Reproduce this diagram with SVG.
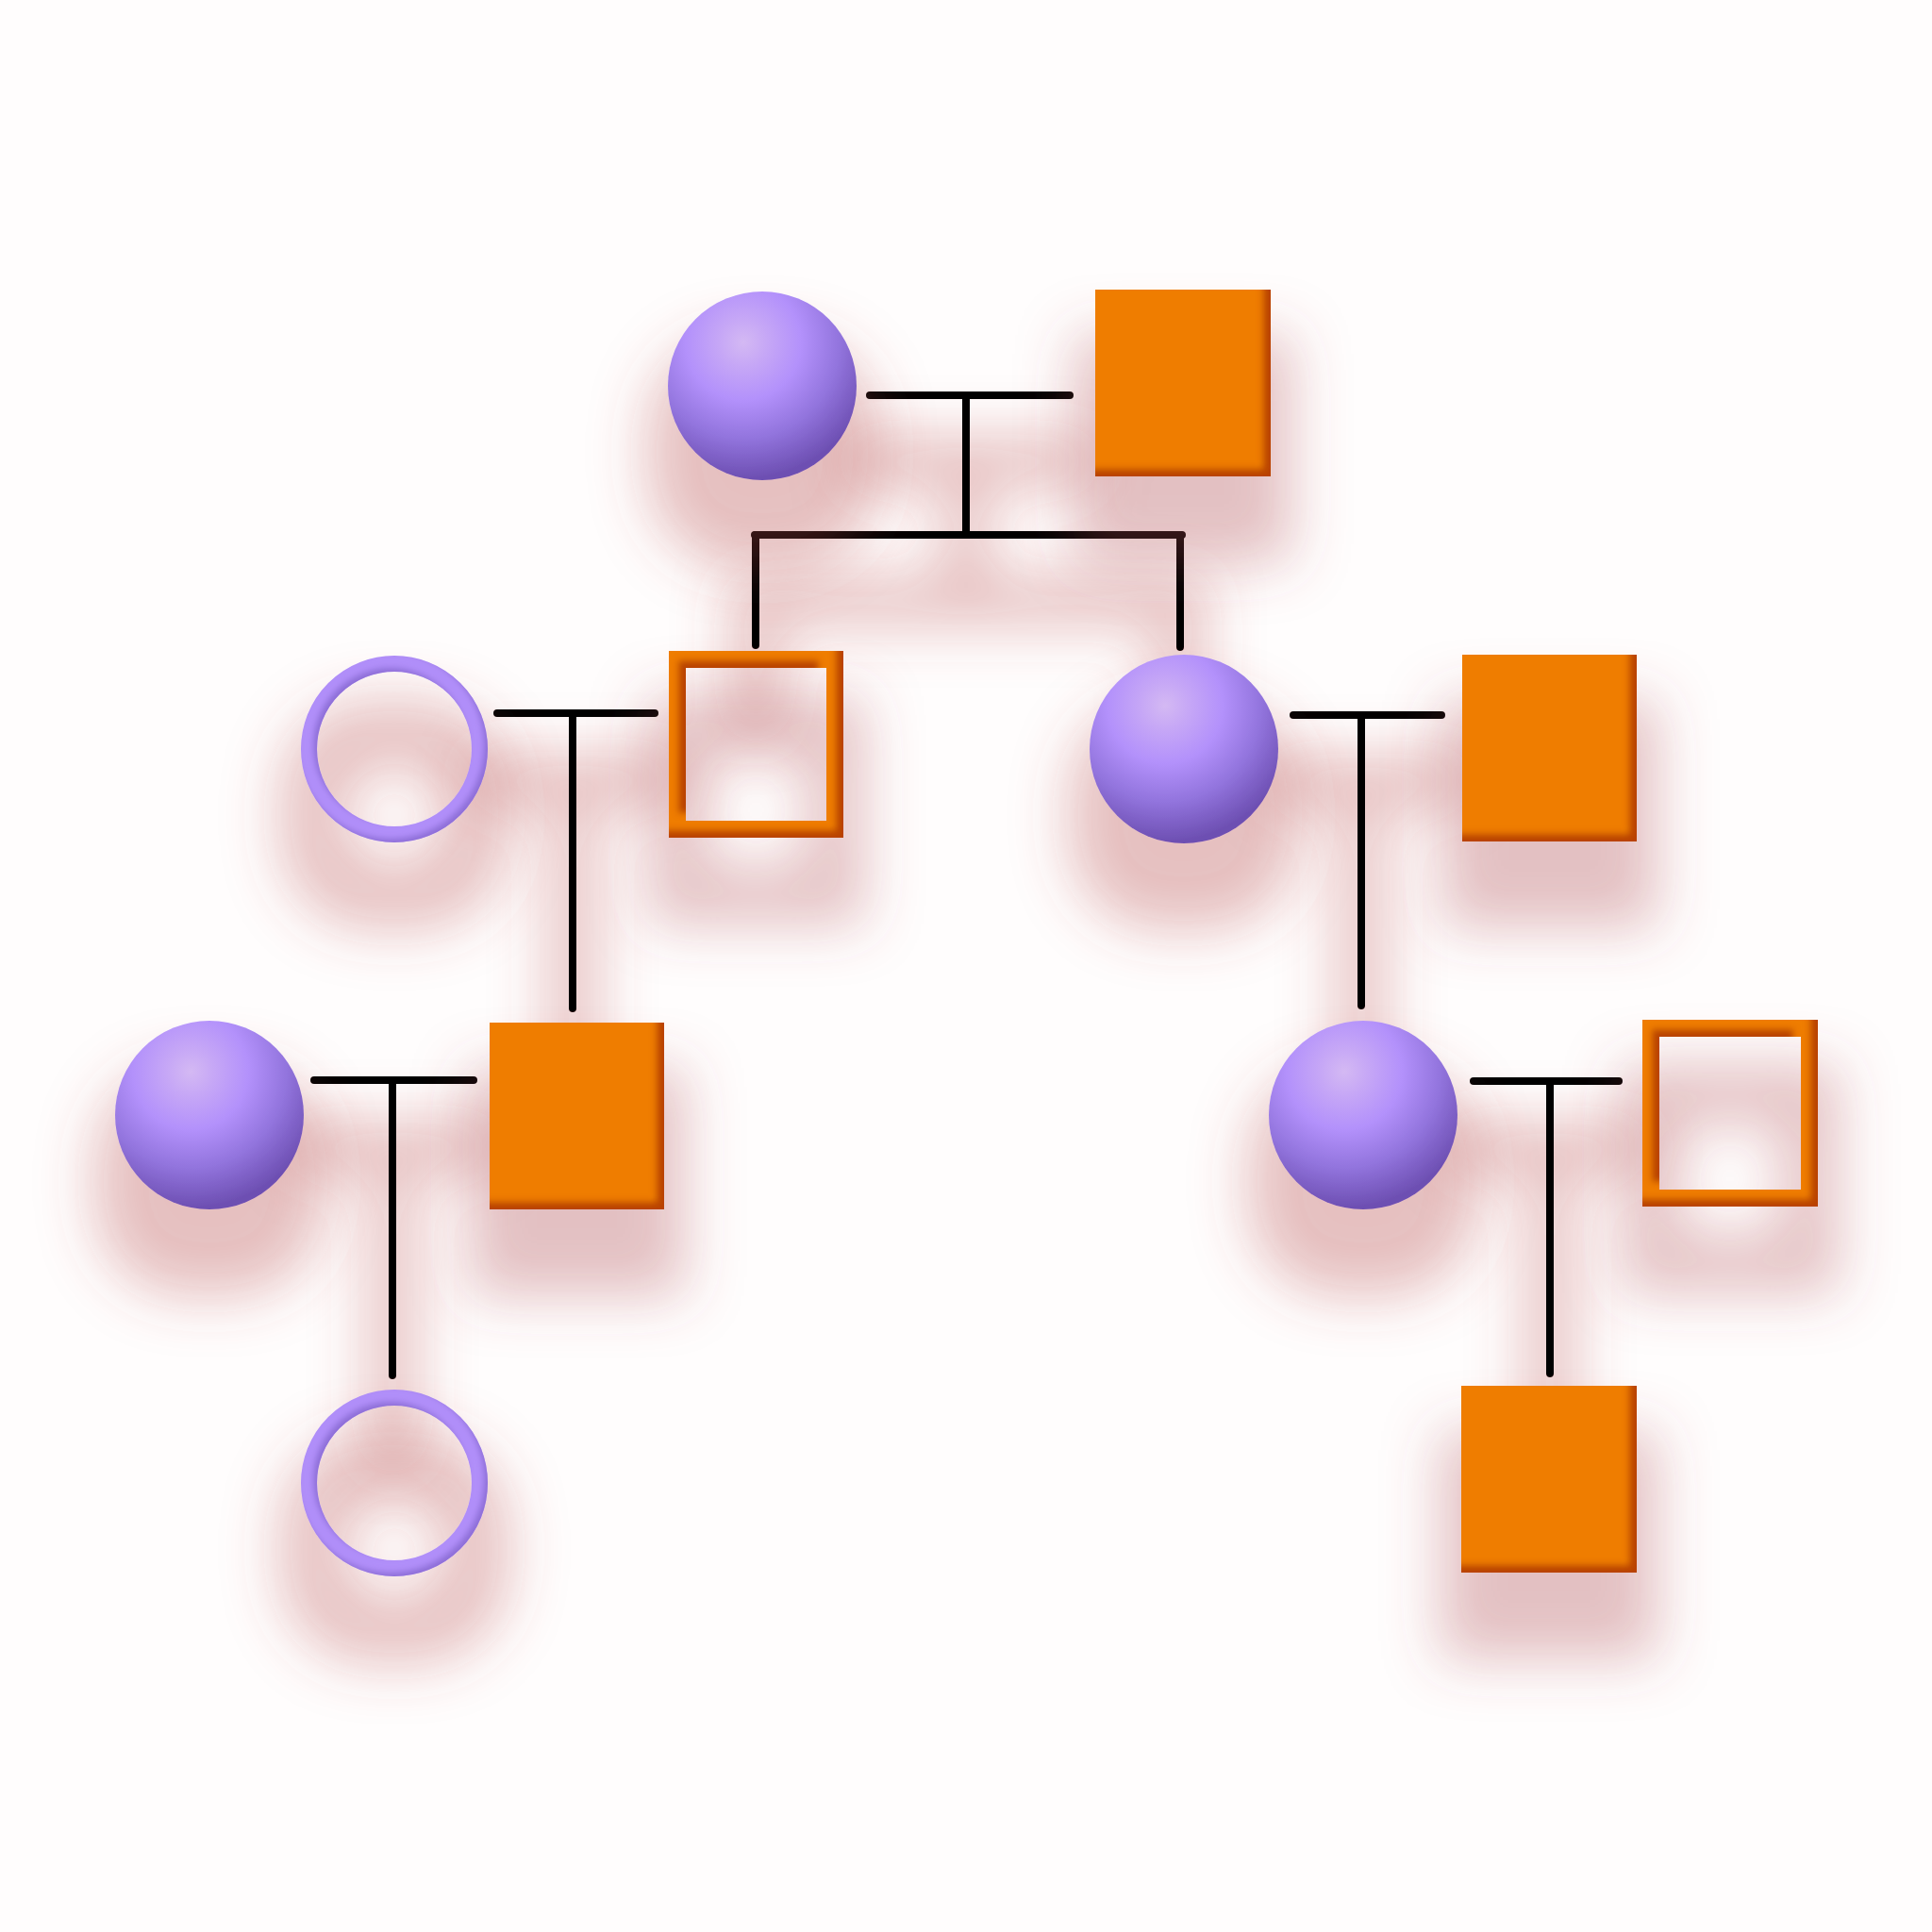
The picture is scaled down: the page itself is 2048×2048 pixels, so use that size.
<svg xmlns="http://www.w3.org/2000/svg" width="2048" height="2048" viewBox="0 0 2048 2048">
<style>
.con{stroke:#000;stroke-width:8;stroke-linecap:round;fill:none}
.sq{fill:#ef7d02}
.osq{fill:none;stroke:#ef7d02;stroke-width:18}
.ring{fill:none;stroke:#b18ff9;stroke-width:17}
.sph{fill:url(#sphereGrad)}
</style>
<defs>
<radialGradient id="sphereGrad" cx="0.4" cy="0.27" r="0.85">
<stop offset="0" stop-color="#d4b9f3"/>
<stop offset="0.15" stop-color="#c6a7f6"/>
<stop offset="0.36" stop-color="#b391fb"/>
<stop offset="0.6" stop-color="#9274dd"/>
<stop offset="0.85" stop-color="#6d4fb2"/>
</radialGradient>
<filter id="drop" filterUnits="userSpaceOnUse" x="0" y="0" width="2048" height="2048">
<feMorphology in="SourceAlpha" operator="dilate" radius="22" result="dil"/>
<feGaussianBlur in="dil" stdDeviation="30" result="blur"/>
<feOffset in="blur" dy="70" result="ob"/>
<feFlood flood-color="#b44848" flood-opacity="0.34"/>
<feComposite in2="ob" operator="in" result="dropS"/>
<feMerge><feMergeNode in="dropS"/><feMergeNode in="SourceGraphic"/></feMerge>
</filter>
<filter id="sqf" filterUnits="userSpaceOnUse" x="0" y="0" width="2048" height="2048">
<feMorphology in="SourceAlpha" operator="dilate" radius="22" result="dil"/>
<feGaussianBlur in="dil" stdDeviation="30" result="blur"/>
<feOffset in="blur" dy="70" result="ob"/>
<feFlood flood-color="#ad4a50" flood-opacity="0.34"/>
<feComposite in2="ob" operator="in" result="dropS"/>
<feOffset in="SourceAlpha" dx="-8" dy="-8" result="sh"/>
<feGaussianBlur in="sh" stdDeviation="3.5" result="shb"/>
<feComposite in="SourceAlpha" in2="shb" operator="out" result="edge"/>
<feFlood flood-color="#b94300"/>
<feComposite in2="edge" operator="in" result="inner"/>
<feMerge><feMergeNode in="dropS"/><feMergeNode in="SourceGraphic"/><feMergeNode in="inner"/></feMerge>
</filter>
<filter id="ringf" filterUnits="userSpaceOnUse" x="0" y="0" width="2048" height="2048">
<feMorphology in="SourceAlpha" operator="dilate" radius="22" result="dil"/>
<feGaussianBlur in="dil" stdDeviation="30" result="blur"/>
<feOffset in="blur" dy="70" result="ob"/>
<feFlood flood-color="#b44848" flood-opacity="0.34"/>
<feComposite in2="ob" operator="in" result="dropS"/>
<feOffset in="SourceAlpha" dx="-4" dy="-4" result="sh"/>
<feGaussianBlur in="sh" stdDeviation="3" result="shb"/>
<feComposite in="SourceAlpha" in2="shb" operator="out" result="edge"/>
<feFlood flood-color="#7a5cc6" flood-opacity="0.7"/>
<feComposite in2="edge" operator="in" result="inner"/>
<feMerge><feMergeNode in="dropS"/><feMergeNode in="SourceGraphic"/><feMergeNode in="inner"/></feMerge>
</filter>
</defs>
<rect width="2048" height="2048" fill="#fffdfd"/>
<g id="connectors" filter="url(#drop)">
<path class="con" d="M922,419 H1134"/>
<path class="con" d="M1024,419 V567"/>
<path class="con" d="M800,567 H1253"/>
<path class="con" d="M801,567 V684"/>
<path class="con" d="M1251,567 V686"/>
<path class="con" d="M527,756 H694"/>
<path class="con" d="M607,756 V1069"/>
<path class="con" d="M1371,758 H1528"/>
<path class="con" d="M1443,758 V1066"/>
<path class="con" d="M333,1145 H502"/>
<path class="con" d="M416,1145 V1458"/>
<path class="con" d="M1562,1146 H1716"/>
<path class="con" d="M1643,1146 V1456"/>
</g>
<g id="n1" filter="url(#drop)"><circle class="sph" cx="808" cy="409" r="100"/></g>
<g id="n2" filter="url(#sqf)"><rect class="sq" x="1161" y="307" width="186" height="198"/></g>
<g id="n3" filter="url(#ringf)"><circle class="ring" cx="418" cy="794" r="90.5"/></g>
<g id="n4" filter="url(#sqf)"><rect class="osq" x="718" y="699" width="167" height="180"/></g>
<g id="n5" filter="url(#drop)"><circle class="sph" cx="1255" cy="794" r="100"/></g>
<g id="n6" filter="url(#sqf)"><rect class="sq" x="1550" y="694" width="185" height="198"/></g>
<g id="n7" filter="url(#drop)"><circle class="sph" cx="222" cy="1182" r="100"/></g>
<g id="n8" filter="url(#sqf)"><rect class="sq" x="519" y="1084" width="185" height="198"/></g>
<g id="n9" filter="url(#drop)"><circle class="sph" cx="1445" cy="1182" r="100"/></g>
<g id="n10" filter="url(#sqf)"><rect class="osq" x="1750" y="1090" width="168" height="180"/></g>
<g id="n11" filter="url(#ringf)"><circle class="ring" cx="418" cy="1572" r="90.5"/></g>
<g id="n12" filter="url(#sqf)"><rect class="sq" x="1549" y="1469" width="186" height="198"/></g>
</svg>
